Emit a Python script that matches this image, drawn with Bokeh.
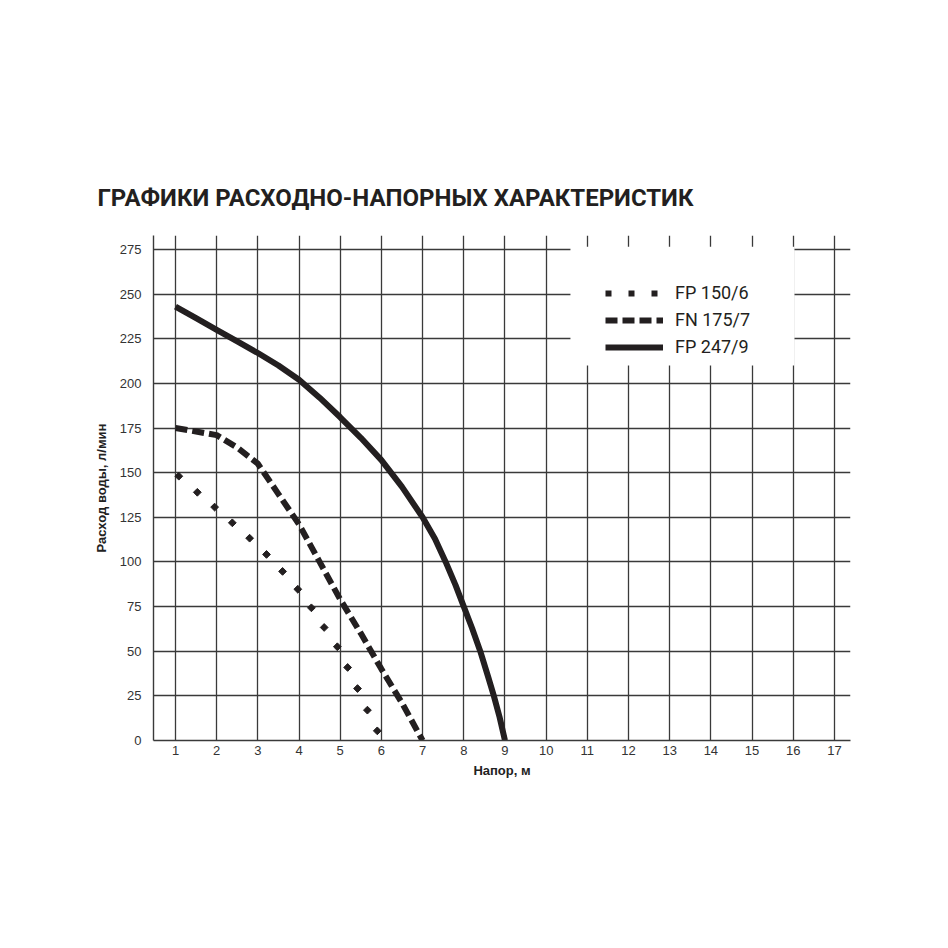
from bokeh.plotting import figure
from bokeh.models import (FixedTicker, Legend, LegendItem, BoxAnnotation, Title)
from bokeh.embed import file_html
from bokeh.resources import INLINE
import math

# ---- data ----
x_ticks = list(range(1, 18))
y_ticks = list(range(0, 276, 25))

fp150_head = [1.08, 1.53, 1.95, 2.38, 2.80, 3.21, 3.60, 3.97, 4.30, 4.61, 4.93, 5.18, 5.42, 5.66, 5.90]
fp150_flow = [148, 139, 130.7, 121.9, 113.3, 104.2, 94.7, 84.7, 74.3, 63.3, 52.5, 40.9, 29.1, 17, 5.4]

fn175_head = [1, 1.5, 2, 2.5, 3, 3.5, 4, 4.5, 5, 5.5, 6, 6.5, 7]
fn175_flow = [175, 173, 171, 164, 155, 138, 121, 100, 79, 60, 40, 21, 0]

fp247_head = [1, 1.5, 2, 2.5, 3, 3.5, 4, 4.5, 5, 5.5, 6, 6.5, 7, 7.3, 7.56, 7.8, 8, 8.2, 8.4, 8.6, 8.73, 8.87, 9]
fp247_flow = [243, 236.5, 230, 223.5, 217, 210, 202, 192, 181, 169.5, 157, 142, 125, 113, 100, 87, 75, 63, 50, 35, 25, 13, 0]

labels = ["FP 150/6", "FN 175/7", "FP 247/9"]

title_text = "ГРАФИКИ РАСХОДНО-НАПОРНЫХ ХАРАКТЕРИСТИК"
x_label = "Напор, м"
y_label = "Расход воды, л/мин"

INK = "#231f20"
GRID = "#3a3a3a"

p = figure(width=932, height=932, output_backend="svg", toolbar_location=None,
           x_range=(0.466, 17.39), y_range=(0, 282.8),
           min_border_left=153, min_border_top=235, min_border_right=82, min_border_bottom=192)
p.outline_line_color = None
p.background_fill_color = "white"

t = Title(text=title_text, text_font="Roboto", text_font_style="bold", text_font_size="24px",
          text_color=INK, align="left", offset=-56, standoff=48)
p.add_layout(t, "above")

# axes
for ax in (p.xaxis, p.yaxis):
    ax.axis_line_color = GRID
    ax.axis_line_width = 1.4
    ax.major_tick_out = 0
    ax.major_tick_in = 0
    ax.minor_tick_out = 0
    ax.minor_tick_in = 0
    ax.major_label_text_font = "Liberation Sans"
    ax.major_label_text_font_size = "13px"
    ax.major_label_text_color = "#333333"
    ax.axis_label_text_font = "Liberation Sans"
    ax.axis_label_text_font_style = "bold"
    ax.axis_label_text_font_size = "13px"
    ax.axis_label_text_color = "#222222"

p.xaxis.ticker = FixedTicker(ticks=x_ticks)
p.yaxis.ticker = FixedTicker(ticks=y_ticks)
p.xaxis.axis_label = x_label
p.yaxis.axis_label = y_label
p.xaxis.major_label_standoff = 5
p.xaxis.axis_label_standoff = 5
p.yaxis.major_label_standoff = 12
p.yaxis.axis_label_standoff = 8

p.xgrid.ticker = FixedTicker(ticks=x_ticks)
p.ygrid.ticker = FixedTicker(ticks=y_ticks)
for g in (p.xgrid, p.ygrid):
    g.grid_line_color = GRID
    g.grid_line_width = 1.3
    g.grid_line_alpha = 1

# curves
r247 = p.line(fp247_head, fp247_flow, line_color=INK, line_width=6, line_join="round")
r175 = p.line(fn175_head, fn175_flow, line_color=INK, line_width=6, line_dash="12 5",
              line_cap="butt")
r150 = p.scatter(fp150_head, fp150_flow, marker="square", size=5.5, angle=math.pi / 4,
                 fill_color=INK, line_color=INK)

# legend swatch for the dotted series (a NaN point: draws nothing in the plot)
nan = float("nan")
l150 = p.line([nan], [nan], line_color=INK, line_width=6, line_dash="6 17", line_cap="butt")

box = BoxAnnotation(left=10.59, right=16.03, bottom=210, top=276.5,
                    fill_color="white", fill_alpha=1, line_alpha=0)
p.add_layout(box)

legend = Legend(items=[LegendItem(label=labels[0], renderers=[l150]),
                       LegendItem(label=labels[1], renderers=[r175]),
                       LegendItem(label=labels[2], renderers=[r247])],
                location=(452, 383), padding=0, margin=0, spacing=6,
                glyph_width=58, glyph_height=20, label_height=20, label_standoff=12,
                label_text_font="Roboto", label_text_font_size="18px",
                label_text_color=INK, background_fill_alpha=0, border_line_alpha=0)
p.add_layout(legend)

open("out.html", "w").write(file_html(p, INLINE))
